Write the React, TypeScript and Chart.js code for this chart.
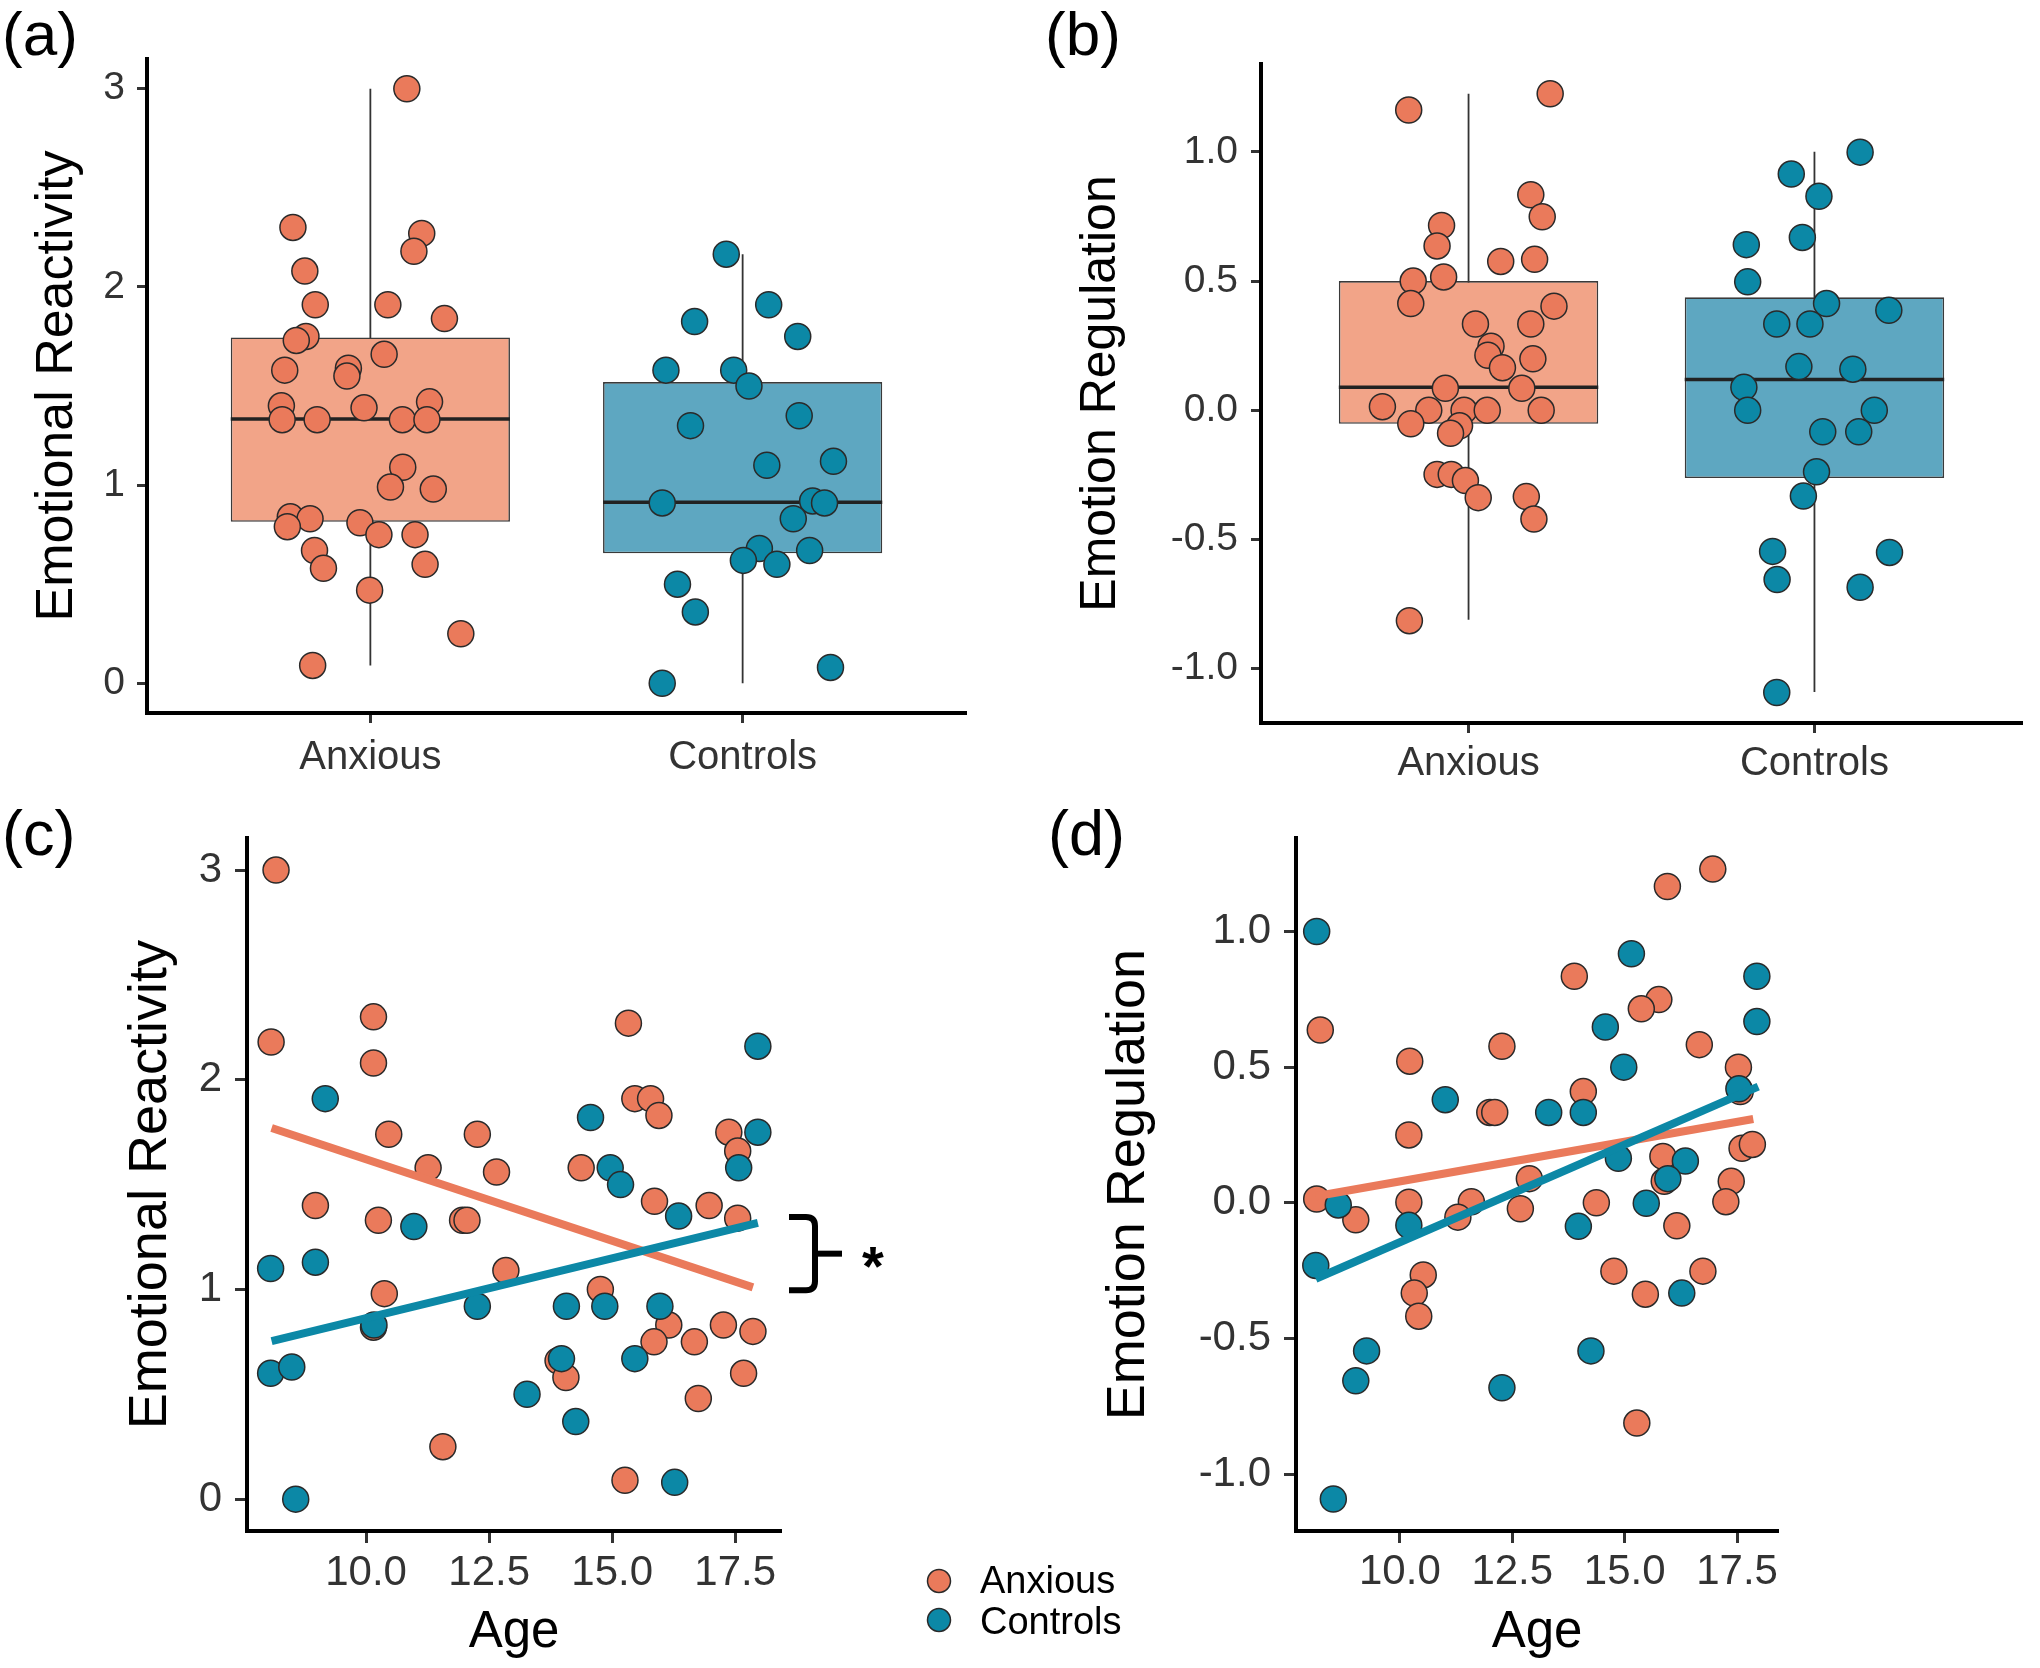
import React, { useEffect, useRef } from "react";
import { Chart, registerables } from "chart.js";

Chart.register(...registerables);

const FONT = "'Liberation Sans', Arial, Helvetica, sans-serif";
const ORANGE = "#EA7A5B";
const TEAL = "#0C88A6";
const ORANGE_BOX = "#F2A488";
const TEAL_BOX = "#5EA7C1";
const INK = "#333333";
const AXIS = "#000000";
const BOX_WIDTH = 0.75;

const GROUPS = ["Anxious", "Controls"];
const GROUP_COLORS = [ORANGE, TEAL];
const BOX_COLORS = [ORANGE_BOX, TEAL_BOX];

// ---------- Panel (a): Emotional Reactivity by group ----------
const A_Y_TICKS = [0, 1, 2, 3];
const A_Y_RANGE = [-0.15, 3.15];
const aLower = [0.09, 0.0];
const aQ1 = [0.815, 0.656];
const aMedian = [1.334, 0.913];
const aQ3 = [1.745, 1.52];
const aUpper = [3.0, 2.165];
const aAnxiousValues = [3.0, 2.3, 2.27, 2.18, 2.08, 1.91, 1.91, 1.84, 1.75, 1.73, 1.66, 1.58, 1.59, 1.55, 1.4, 1.39, 1.42, 1.33, 1.33, 1.33, 1.33, 1.09, 0.99, 0.98, 0.84, 0.83, 0.79, 0.81, 0.75, 0.75, 0.67, 0.58, 0.6, 0.47, 0.25, 0.09];
const aAnxiousJitter = [0.098, -0.208, 0.138, 0.117, -0.176, -0.148, 0.047, 0.199, -0.173, -0.199, 0.037, -0.23, -0.059, -0.063, -0.239, -0.017, 0.159, -0.237, -0.143, 0.086, 0.152, 0.087, 0.054, 0.169, -0.215, -0.162, -0.223, -0.028, 0.023, 0.12, -0.15, -0.126, 0.147, -0.002, 0.243, -0.155];
const aControlsValues = [2.165, 1.91, 1.825, 1.75, 1.58, 1.58, 1.5, 1.3, 1.35, 1.12, 1.1, 0.91, 0.92, 0.91, 0.83, 0.68, 0.67, 0.62, 0.6, 0.5, 0.36, 0.08, 0.0];
const aControlsJitter = [-0.044, 0.07, -0.129, 0.148, -0.206, -0.024, 0.017, -0.14, 0.152, 0.244, 0.065, -0.216, 0.188, 0.22, 0.136, 0.045, 0.18, 0.002, 0.092, -0.175, -0.127, 0.236, -0.216];

// ---------- Panel (b): Emotion Regulation by group ----------
const B_Y_TICKS = [-1, -0.5, 0, 0.5, 1];
const B_Y_RANGE = [-1.21, 1.34];
const bLower = [-0.81, -1.09];
const bQ1 = [-0.052, -0.262];
const bMedian = [0.089, 0.119];
const bQ3 = [0.5, 0.437];
const bUpper = [1.225, 1.0];
const bAnxiousValues = [1.225, 1.162, 0.834, 0.749, 0.715, 0.636, 0.576, 0.584, 0.5, 0.516, 0.413, 0.403, 0.334, 0.334, 0.248, 0.213, 0.199, 0.165, 0.085, 0.085, 0.014, 0.0, 0.0, 0.0, 0.0, -0.052, -0.06, -0.089, -0.248, -0.248, -0.272, -0.338, -0.334, -0.421, -0.814];
const bAnxiousJitter = [0.236, -0.173, 0.18, 0.213, -0.078, -0.091, 0.093, 0.191, -0.16, -0.072, -0.167, 0.247, 0.02, 0.18, 0.065, 0.056, 0.186, 0.098, -0.067, 0.154, -0.249, -0.115, -0.013, 0.054, 0.21, -0.167, -0.026, -0.052, -0.091, -0.05, -0.009, 0.028, 0.167, 0.189, -0.171];
const bControlsValues = [0.999, 0.914, 0.828, 0.669, 0.641, 0.497, 0.413, 0.387, 0.334, 0.334, 0.169, 0.159, 0.089, 0.0, 0.0, -0.083, -0.083, -0.238, -0.332, -0.546, -0.55, -0.655, -0.685, -1.092];
const bControlsJitter = [0.132, -0.067, 0.013, -0.035, -0.197, -0.193, 0.035, 0.215, -0.109, -0.013, -0.045, 0.111, -0.204, -0.193, 0.173, 0.024, 0.128, 0.006, -0.032, -0.121, 0.217, -0.108, 0.132, -0.109];

// ---------- Panel (c): Emotional Reactivity vs Age ----------
const AGE_TICKS = [10, 12.5, 15, 17.5];
const C_X_RANGE = [7.58, 18.43];
const C_Y_RANGE = [-0.152, 3.152];
const cAnxiousAge = [8.17, 8.07, 10.15, 10.15, 15.33, 15.46, 15.78, 15.95, 10.46, 12.26, 17.37, 17.55, 11.26, 12.65, 14.37, 8.97, 15.86, 16.97, 10.25, 11.96, 12.05, 17.55, 12.84, 10.37, 14.76, 10.15, 16.15, 17.26, 17.86, 15.85, 16.67, 13.9, 14.06, 17.67, 16.75, 11.56, 15.26];
const cAnxiousValue = [3.0, 2.18, 2.3, 2.08, 2.27, 1.91, 1.91, 1.83, 1.74, 1.74, 1.75, 1.66, 1.58, 1.56, 1.58, 1.4, 1.42, 1.4, 1.33, 1.33, 1.33, 1.34, 1.09, 0.98, 1.0, 0.82, 0.83, 0.83, 0.8, 0.75, 0.75, 0.66, 0.58, 0.6, 0.48, 0.25, 0.09];
const cControlsAge = [17.96, 9.17, 14.56, 17.96, 14.96, 15.17, 17.57, 16.35, 10.97, 8.06, 8.97, 12.26, 14.07, 14.85, 15.97, 10.16, 8.06, 8.49, 15.46, 13.97, 13.27, 14.26, 16.27, 8.57];
const cControlsValue = [2.16, 1.91, 1.82, 1.75, 1.58, 1.5, 1.58, 1.35, 1.3, 1.1, 1.13, 0.92, 0.92, 0.92, 0.92, 0.83, 0.6, 0.63, 0.67, 0.67, 0.5, 0.37, 0.08, 0.0];
const cAnxiousFitAge = [8.08, 17.86];
const cAnxiousFitValue = [1.77, 1.01];
const cControlsFitAge = [8.08, 17.96];
const cControlsFitValue = [0.753, 1.317];

// ---------- Panel (d): Emotion Regulation vs Age ----------
const D_X_RANGE = [7.69, 18.41];
const D_Y_RANGE = [-1.21, 1.344];
const dAnxiousAge = [16.96, 15.95, 13.88, 15.76, 15.37, 8.23, 16.66, 12.27, 10.22, 17.53, 17.57, 14.08, 12.0, 12.11, 10.2, 15.85, 17.61, 17.84, 12.88, 17.37, 15.88, 8.15, 10.2, 11.59, 14.37, 17.25, 9.02, 11.29, 12.68, 16.16, 10.52, 10.32, 10.42, 14.76, 16.74, 15.46, 15.27];
const dAnxiousValue = [1.23, 1.166, 0.835, 0.749, 0.715, 0.637, 0.583, 0.577, 0.522, 0.5, 0.41, 0.41, 0.333, 0.333, 0.25, 0.171, 0.201, 0.215, 0.089, 0.079, 0.079, 0.014, 0.002, 0.004, 0.0, 0.004, -0.063, -0.053, -0.022, -0.085, -0.266, -0.333, -0.418, -0.252, -0.252, -0.337, -0.812];
const dControlsAge = [8.15, 15.15, 17.94, 17.94, 14.57, 14.98, 17.54, 11.01, 13.31, 14.08, 14.86, 16.35, 15.96, 8.63, 15.48, 10.2, 13.97, 8.13, 16.27, 9.26, 14.25, 9.02, 12.27, 8.52];
const dControlsValue = [1.0, 0.918, 0.835, 0.668, 0.648, 0.5, 0.42, 0.38, 0.333, 0.333, 0.164, 0.154, 0.089, -0.008, -0.002, -0.083, -0.087, -0.231, -0.333, -0.546, -0.546, -0.656, -0.682, -1.092];
const dAnxiousFitAge = [8.13, 17.86];
const dAnxiousFitValue = [0.024, 0.309];
const dControlsFitAge = [8.13, 17.97];
const dControlsFitValue = [-0.28, 0.428];

type Frame = {
  left: number; top: number; width: number; height: number;
  plotLeft: number; plotTop: number; plotRight: number; plotBottom: number;
};

const FRAME_A: Frame = { left: 0, top: 0, width: 1020, height: 800, plotLeft: 147, plotTop: 59, plotRight: 966, plotBottom: 713 };
const FRAME_B: Frame = { left: 1020, top: 0, width: 1020, height: 800, plotLeft: 241, plotTop: 64, plotRight: 1002, plotBottom: 723 };
const FRAME_C: Frame = { left: 0, top: 800, width: 1020, height: 868, plotLeft: 247, plotTop: 33, plotRight: 781, plotBottom: 731 };
const FRAME_D: Frame = { left: 1020, top: 800, width: 1020, height: 868, plotLeft: 276, plotTop: 34, plotRight: 758, plotBottom: 731 };

type ScaleSpec = {
  axis: "x" | "y";
  frame: Frame;
  range: number[];
  ticks: number[];
  label: (v: number) => string;
  tickSize: number;
  tickLen: number;
  tickPad: number;
  title?: string;
  titleSize?: number;
  titlePad?: number;
};

function makeScale(s: ScaleSpec): any {
  return {
    type: "linear",
    min: s.range[0],
    max: s.range[1],
    offset: false,
    afterBuildTicks: (scale: any) => {
      scale.ticks = s.ticks.map((v) => ({ value: v }));
    },
    afterFit: (scale: any) => {
      if (s.axis === "y") scale.width = s.frame.plotLeft;
      else scale.height = s.frame.height - s.frame.plotBottom;
    },
    grid: {
      display: true,
      offset: false,
      drawOnChartArea: false,
      drawTicks: true,
      tickLength: s.tickLen,
      tickWidth: 3,
      tickColor: INK,
    },
    border: { display: true, color: AXIS, width: 4 },
    ticks: {
      autoSkip: false,
      maxRotation: 0,
      minRotation: 0,
      padding: s.tickPad,
      color: INK,
      font: { family: FONT, size: s.tickSize },
      callback: (v: any) => s.label(Number(v)),
    },
    title: s.title
      ? {
          display: true,
          text: s.title,
          color: "#000",
          font: { family: FONT, size: s.titleSize },
          padding: s.axis === "y" ? { top: s.titlePad, bottom: 0 } : { top: 0, bottom: s.titlePad },
        }
      : { display: false },
  };
}

function baseOptions(frame: Frame, x: any, y: any): any {
  return {
    responsive: false,
    maintainAspectRatio: false,
    animation: false,
    devicePixelRatio: 1,
    events: [],
    layout: { padding: { left: 0, top: frame.plotTop, right: frame.width - frame.plotRight, bottom: 0 } },
    plugins: { legend: { display: false }, tooltip: { enabled: false } },
    scales: { x, y },
  };
}

function pointDataset(xs: number[], ys: number[], color: string, order: number, radius: number): any {
  return {
    type: "scatter",
    data: xs.map((x, i) => ({ x, y: ys[i] })),
    pointRadius: radius,
    pointHoverRadius: radius,
    pointBackgroundColor: color,
    pointBorderColor: "#2a2a2a",
    pointBorderWidth: 1.5,
    backgroundColor: color,
    borderColor: "#2a2a2a",
    order,
  };
}

type BoxSpec = {
  frame: Frame;
  yRange: number[];
  yTicks: number[];
  yLabel: (v: number) => string;
  yTitle: string;
  yTitleSize: number;
  yTitlePad: number;
  yTickPad: number;
  xTickPad: number;
  lower: number[]; q1: number[]; median: number[]; q3: number[]; upper: number[];
  values: number[][];
  jitter: number[][];
};

function boxConfig(b: BoxSpec): any {
  const datasets: any[] = [];
  GROUPS.forEach((_, i) => {
    const c = i + 1;
    datasets.push({
      type: "line",
      data: [{ x: c, y: b.lower[i] }, { x: c, y: b.upper[i] }],
      borderColor: INK,
      borderWidth: 1.8,
      pointRadius: 0,
      fill: false,
      order: 10,
    });
    datasets.push({
      type: "line",
      data: [{ x: c - BOX_WIDTH / 2, y: b.median[i] }, { x: c + BOX_WIDTH / 2, y: b.median[i] }],
      borderColor: "#222222",
      borderWidth: 3.5,
      pointRadius: 0,
      fill: false,
      order: 4,
    });
    datasets.push(
      pointDataset(
        b.values[i].map((_, k) => c + b.jitter[i][k]),
        b.values[i],
        GROUP_COLORS[i],
        1,
        13
      )
    );
  });
  datasets.push({
    type: "bar",
    data: GROUPS.map((_, i) => ({ x: i + 1, y: [b.q1[i], b.q3[i]] })),
    backgroundColor: BOX_COLORS,
    borderColor: "#3a3a3a",
    borderWidth: 1.6,
    borderSkipped: false,
    barPercentage: BOX_WIDTH,
    categoryPercentage: 1,
    grouped: false,
    order: 6,
  });

  const x = makeScale({
    axis: "x",
    frame: b.frame,
    range: [0.4, 2.6],
    ticks: GROUPS.map((_, i) => i + 1),
    label: (v) => GROUPS[Math.round(v) - 1] ?? "",
    tickSize: 40,
    tickLen: 10,
    tickPad: b.xTickPad,
  });
  const y = makeScale({
    axis: "y",
    frame: b.frame,
    range: b.yRange,
    ticks: b.yTicks,
    label: b.yLabel,
    tickSize: 39,
    tickLen: 10,
    tickPad: b.yTickPad,
    title: b.yTitle,
    titleSize: b.yTitleSize,
    titlePad: b.yTitlePad,
  });
  return { type: "scatter", data: { datasets }, options: baseOptions(b.frame, x, y) };
}

type ScatterSpec = {
  frame: Frame;
  xRange: number[];
  yRange: number[];
  yTicks: number[];
  yLabel: (v: number) => string;
  yTitle: string;
  yTitlePad: number;
  xTickPad: number;
  yTickPad: number;
  anxAge: number[]; anxVal: number[];
  ctlAge: number[]; ctlVal: number[];
  anxFitAge: number[]; anxFitVal: number[];
  ctlFitAge: number[]; ctlFitVal: number[];
  plugins?: any[];
};

function scatterConfig(s: ScatterSpec): any {
  const datasets: any[] = [
    pointDataset(s.anxAge, s.anxVal, ORANGE, 4, 13),
    pointDataset(s.ctlAge, s.ctlVal, TEAL, 3, 13),
    {
      type: "line",
      data: s.anxFitAge.map((x, i) => ({ x, y: s.anxFitVal[i] })),
      borderColor: ORANGE,
      borderWidth: 8,
      pointRadius: 0,
      fill: false,
      order: 2,
    },
    {
      type: "line",
      data: s.ctlFitAge.map((x, i) => ({ x, y: s.ctlFitVal[i] })),
      borderColor: TEAL,
      borderWidth: 8,
      pointRadius: 0,
      fill: false,
      order: 1,
    },
  ];
  const x = makeScale({
    axis: "x",
    frame: s.frame,
    range: s.xRange,
    ticks: AGE_TICKS,
    label: (v) => v.toFixed(1),
    tickSize: 42,
    tickLen: 12,
    tickPad: s.xTickPad,
    title: "Age",
    titleSize: 51,
    titlePad: 4,
  });
  const y = makeScale({
    axis: "y",
    frame: s.frame,
    range: s.yRange,
    ticks: s.yTicks,
    label: s.yLabel,
    tickSize: 42,
    tickLen: 12,
    tickPad: s.yTickPad,
    title: s.yTitle,
    titleSize: 54,
    titlePad: s.yTitlePad,
  });
  return { type: "scatter", data: { datasets }, options: baseOptions(s.frame, x, y), plugins: s.plugins ?? [] };
}

// Brace + significance star next to the two fitted line ends in panel (c)
const bracePlugin = {
  id: "significanceBrace",
  afterDraw(chart: any) {
    const { ctx, chartArea, scales } = chart;
    const yScale = scales.y;
    const top = yScale.getPixelForValue(cControlsFitValue[1]) - 6;
    const bot = yScale.getPixelForValue(cAnxiousFitValue[1]) + 3;
    const mid = (top + bot) / 2;
    const x0 = chartArea.right + 8;
    const x1 = chartArea.right + 34;
    const x2 = chartArea.right + 61;
    const r = 9;
    ctx.save();
    ctx.strokeStyle = "#000";
    ctx.lineWidth = 6;
    ctx.lineJoin = "round";
    ctx.beginPath();
    ctx.moveTo(x0, top);
    ctx.lineTo(x1 - r, top);
    ctx.quadraticCurveTo(x1, top, x1, top + r);
    ctx.lineTo(x1, mid - 4);
    ctx.lineTo(x1, mid + 4);
    ctx.lineTo(x1, bot - r);
    ctx.quadraticCurveTo(x1, bot, x1 - r, bot);
    ctx.lineTo(x0, bot);
    ctx.stroke();
    ctx.beginPath();
    ctx.moveTo(x1, mid);
    ctx.lineTo(x2, mid);
    ctx.stroke();
    const size = 56;
    ctx.fillStyle = "#000";
    ctx.font = `bold ${size}px ${FONT}`;
    ctx.textAlign = "center";
    ctx.textBaseline = "alphabetic";
    ctx.fillText("*", chartArea.right + 92, mid + 0.56 * size);
    ctx.restore();
  },
};

function ChartCanvas({ frame, build }: { frame: Frame; build: () => any }) {
  const ref = useRef<HTMLCanvasElement>(null);
  useEffect(() => {
    if (!ref.current) return;
    const chart = new Chart(ref.current, build());
    return () => chart.destroy();
  }, []);
  return (
    <canvas
      ref={ref}
      width={frame.width}
      height={frame.height}
      style={{ position: "absolute", left: frame.left, top: frame.top, width: frame.width, height: frame.height }}
    />
  );
}

const int = (v: number) => String(Math.round(v));
const one = (v: number) => v.toFixed(1);

export default function App() {
  const panelLabels = [
    { text: "(a)", x: 2, y: 55, size: 62 },
    { text: "(b)", x: 1045, y: 55, size: 62 },
    { text: "(c)", x: 2, y: 855, size: 63 },
    { text: "(d)", x: 1048, y: 855, size: 63 },
  ];
  return (
    <div style={{ position: "absolute", left: 0, top: 0, width: 2040, height: 1668, background: "#fff", overflow: "hidden" }}>
      <ChartCanvas
        frame={FRAME_A}
        build={() =>
          boxConfig({
            frame: FRAME_A,
            yRange: A_Y_RANGE,
            yTicks: A_Y_TICKS,
            yLabel: int,
            yTitle: "Emotional Reactivity",
            yTitleSize: 52,
            yTitlePad: 26,
            yTickPad: 12,
            xTickPad: 11,
            lower: aLower, q1: aQ1, median: aMedian, q3: aQ3, upper: aUpper,
            values: [aAnxiousValues, aControlsValues],
            jitter: [aAnxiousJitter, aControlsJitter],
          })
        }
      />
      <ChartCanvas
        frame={FRAME_B}
        build={() =>
          boxConfig({
            frame: FRAME_B,
            yRange: B_Y_RANGE,
            yTicks: B_Y_TICKS,
            yLabel: one,
            yTitle: "Emotion Regulation",
            yTitleSize: 50,
            yTitlePad: 51,
            yTickPad: 13,
            xTickPad: 7,
            lower: bLower, q1: bQ1, median: bMedian, q3: bQ3, upper: bUpper,
            values: [bAnxiousValues, bControlsValues],
            jitter: [bAnxiousJitter, bControlsJitter],
          })
        }
      />
      <ChartCanvas
        frame={FRAME_C}
        build={() =>
          scatterConfig({
            frame: FRAME_C,
            xRange: C_X_RANGE,
            yRange: C_Y_RANGE,
            yTicks: A_Y_TICKS,
            yLabel: int,
            yTitle: "Emotional Reactivity",
            yTitlePad: 119,
            xTickPad: 5,
            yTickPad: 13,
            anxAge: cAnxiousAge, anxVal: cAnxiousValue,
            ctlAge: cControlsAge, ctlVal: cControlsValue,
            anxFitAge: cAnxiousFitAge, anxFitVal: cAnxiousFitValue,
            ctlFitAge: cControlsFitAge, ctlFitVal: cControlsFitValue,
            plugins: [bracePlugin],
          })
        }
      />
      <ChartCanvas
        frame={FRAME_D}
        build={() =>
          scatterConfig({
            frame: FRAME_D,
            xRange: D_X_RANGE,
            yRange: D_Y_RANGE,
            yTicks: B_Y_TICKS,
            yLabel: one,
            yTitle: "Emotion Regulation",
            yTitlePad: 77,
            xTickPad: 4,
            yTickPad: 13,
            anxAge: dAnxiousAge, anxVal: dAnxiousValue,
            ctlAge: dControlsAge, ctlVal: dControlsValue,
            anxFitAge: dAnxiousFitAge, anxFitVal: dAnxiousFitValue,
            ctlFitAge: dControlsFitAge, ctlFitVal: dControlsFitValue,
          })
        }
      />
      <svg width={2040} height={1668} style={{ position: "absolute", left: 0, top: 0, pointerEvents: "none" }}>
        {panelLabels.map((p) => (
          <text key={p.text} x={p.x} y={p.y} fontSize={p.size} fontFamily={FONT} fill="#000">
            {p.text}
          </text>
        ))}
        {GROUPS.map((g, i) => (
          <g key={g}>
            <circle cx={939} cy={1581 + i * 39} r={11.5} fill={GROUP_COLORS[i]} stroke="#2a2a2a" strokeWidth={1.5} />
            <text x={980} y={1593 + i * 41} fontSize={38} fontFamily={FONT} fill="#000">
              {g}
            </text>
          </g>
        ))}
      </svg>
    </div>
  );
}
